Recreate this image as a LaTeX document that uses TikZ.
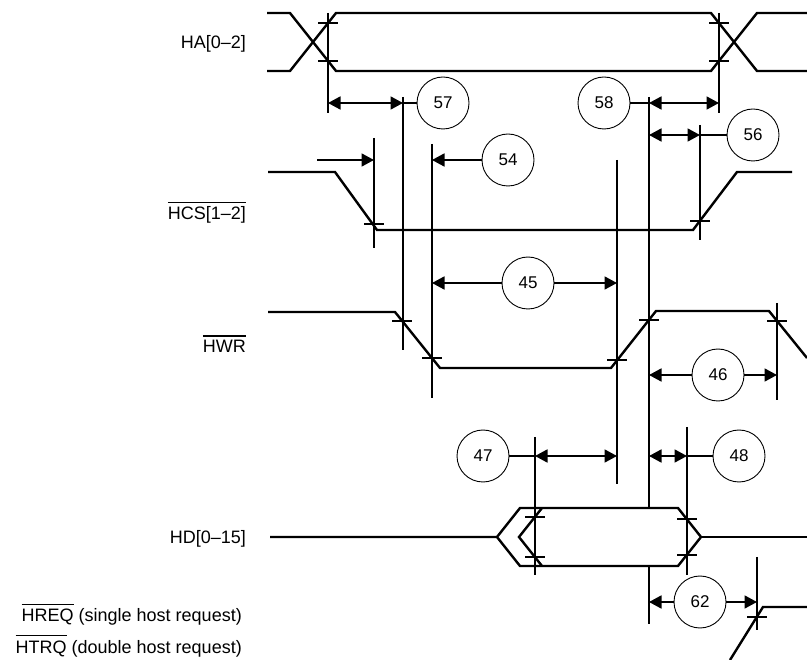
\documentclass[tikz,border=0pt]{standalone}
\usepackage{fontspec}
\setmainfont{Liberation Sans}
\usetikzlibrary{arrows.meta}
\newcommand\ovlbar[1]{\vbox{\hrule height 1.4pt\kern 4pt\hbox{#1}}}
\begin{document}
\begin{tikzpicture}[x=1pt,y=-1pt,
  sig/.style={line width=2.4pt},
  vl/.style={line width=1.8pt},
  tickmark/.style={line width=1.6pt},
  tipA/.tip={Triangle[length=12.5pt,width=13pt]},
  dimboth/.style={line width=1.8pt,tipA-tipA},
  dimend/.style={line width=1.8pt,-tipA},
  lbl/.style={font=\fontsize{18}{21}\selectfont, inner sep=0pt},
  num/.style={circle, draw, line width=0.9pt, minimum size=52pt, inner sep=0pt, font=\fontsize{17}{20}\selectfont}]
\useasboundingbox (0,0) rectangle (807,660);

% labels
\node[lbl, anchor=base east] (lHA) at (246,48.5) {HA[0–2]};
\node[lbl, anchor=base east] (lHCS) at (246,220) {\ovlbar{HCS[1–2]}};
\node[lbl, anchor=base east] (lHWR) at (246,353) {\ovlbar{HWR}};
\node[lbl, anchor=base east] (lHD) at (246,543.5) {HD[0–15]};
\node[lbl, anchor=base east] (lHREQ) at (242,622) {\ovlbar{HREQ} (single host request)};
\node[lbl, anchor=base east] (lHTRQ) at (242,653) {\ovlbar{HTRQ} (double host request)};

% signals
\draw[sig] (267,13) -- (290,13) -- (336,71) -- (711,71) -- (757,13) -- (807,13);
\draw[sig] (267,71) -- (290,71) -- (336,13) -- (711,13) -- (757,71) -- (807,71);
\draw[sig] (268,172) -- (335,172) -- (377,230) -- (693,230) -- (737,172) -- (792,172);
\draw[sig] (268,312) -- (395,312) -- (440,368) -- (611,368) -- (656,311) -- (769,311) -- (807,358);
\draw[sig] (270,537) -- (497,537) -- (520,508) -- (678,508) -- (701,537) -- (678,566) -- (520,566) -- (497,537);
\draw[sig] (542,508) -- (519,537) -- (542,566);
\draw[sig] (701,537) -- (807,537);
\draw[sig] (730,660) -- (763,607) -- (807,607);

% vertical reference lines
\draw[vl] (328,13) -- (328,113);
\draw[vl] (719,13) -- (719,113);
\draw[vl] (403,97) -- (403,350);
\draw[vl] (649,97) -- (649,508);
\draw[vl] (649,566) -- (649,624);
\draw[vl] (700,125) -- (700,240);
\draw[vl] (374,138) -- (374,248);
\draw[vl] (432,144) -- (432,398);
\draw[vl] (617,160) -- (617,484);
\draw[vl] (777,303) -- (777,400);
\draw[vl] (535,437) -- (535,575);
\draw[vl] (687,427) -- (687,575);
\draw[vl] (757,557) -- (757,630);

% ticks
\foreach \x/\y in {328/23,328/61,719/23,719/61,374/224,700/221,402/321,432/358,617/360,649/320,777/321,535/517,535/557,687/519,687/555,757/617}
  \draw[tickmark] (\x-10,\y) -- (\x+10,\y);

% number circles
\node[num] (c57) at (443,103) {57};
\node[num] (c58) at (604,103) {58};
\node[num] (c56) at (753,135) {56};
\node[num] (c54) at (508,160) {54};
\node[num] (c45) at (528,283) {45};
\node[num] (c46) at (718,375) {46};
\node[num] (c47) at (483,456) {47};
\node[num] (c48) at (739,456) {48};
\node[num] (c62) at (700,602) {62};

% dimension end points
\coordinate (d57a) at (328,103);
\coordinate (d57b) at (403,103);
\coordinate (d58a) at (649,103);
\coordinate (d58b) at (719,103);
\coordinate (d56a) at (649,135);
\coordinate (d56b) at (700,135);
\coordinate (d54) at (432,160);
\coordinate (dcsa) at (317,160);
\coordinate (dcsb) at (374,160);
\coordinate (d45a) at (432,283);
\coordinate (d45b) at (617,283);
\coordinate (d46a) at (649,375);
\coordinate (d46b) at (777,375);
\coordinate (d47a) at (535,456);
\coordinate (d47b) at (617,456);
\coordinate (d48a) at (649,456);
\coordinate (d48b) at (687,456);
\coordinate (d62a) at (649,602);
\coordinate (d62b) at (757,602);

% dimensions
\draw[dimboth] (d57a) -- (d57b);
\draw[vl] (d57b) -- (c57);
\draw[vl] (c58) -- (d58a);
\draw[dimboth] (d58a) -- (d58b);
\draw[dimboth] (d56a) -- (d56b);
\draw[vl] (d56b) -- (c56);
\draw[dimend] (c54) -- (d54);
\draw[dimend] (dcsa) -- (dcsb);
\draw[dimend] (c45) -- (d45a);
\draw[dimend] (c45) -- (d45b);
\draw[dimend] (c46) -- (d46a);
\draw[dimend] (c46) -- (d46b);
\draw[vl] (c47) -- (d47a);
\draw[dimboth] (d47a) -- (d47b);
\draw[dimboth] (d48a) -- (d48b);
\draw[vl] (d48b) -- (c48);
\draw[dimend] (c62) -- (d62a);
\draw[dimend] (c62) -- (d62b);
\end{tikzpicture}
\end{document}
